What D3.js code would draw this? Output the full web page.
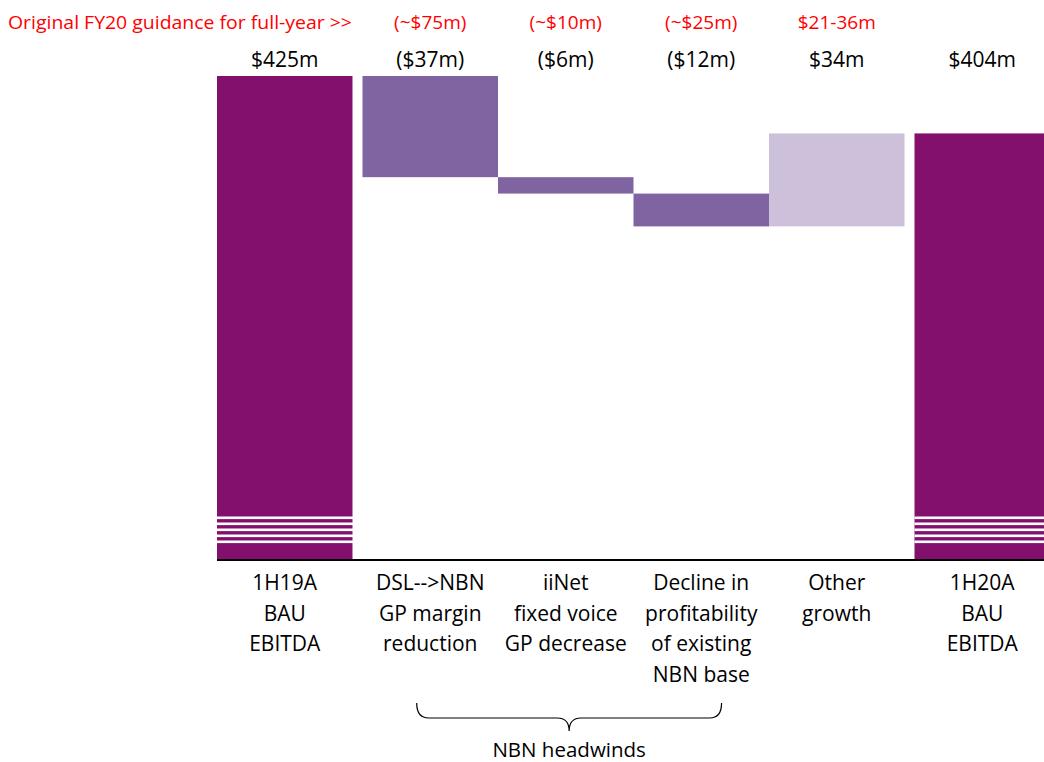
<!DOCTYPE html>
<html>
<head>
<meta charset="utf-8">
<script src="https://cdn.jsdelivr.net/npm/d3@7"></script>
<style>
  body { margin: 0; background: #fff; }
  text { font-family: "Open Sans", Lato, sans-serif; }
</style>
</head>
<body>
<div id="chart"></div>
<script>
// waterfall data
var categories = ['1H19A BAU EBITDA', 'DSL-->NBN GP margin reduction', 'iiNet fixed voice GP decrease',
                  'Decline in profitability of existing NBN base', 'Other growth', '1H20A BAU EBITDA']
var catLines = [['1H19A', 'BAU', 'EBITDA'], ['DSL-->NBN', 'GP margin', 'reduction'], ['iiNet', 'fixed voice', 'GP decrease'],
                ['Decline in', 'profitability', 'of existing', 'NBN base'], ['Other', 'growth'], ['1H20A', 'BAU', 'EBITDA']]
var kinds = ['total', 'down', 'down', 'down', 'up', 'total']
var values = [425, -37, -6, -12, 34, 404]
var valueLabels = ['$425m', '($37m)', '($6m)', '($12m)', '$34m', '$404m']
var guidance = ['', '(~$75m)', '(~$10m)', '(~$25m)', '$21-36m', '']
var guidanceTitle = 'Original FY20 guidance for full-year >>'
var braceLabel = 'NBN headwinds'
var axisBreak = 248   // value at the (broken) baseline

var W = 1044, H = 762
var svg = d3.select('#chart').append('svg').attr('width', W).attr('height', H)

var colors = {total: '#84106E', down: '#8064A2', up: '#CCC0DA'}

var x = d3.scaleBand().domain(categories).range([227, 1040]).paddingInner(0).paddingOuter(0)
var y = d3.scaleLinear().domain([axisBreak, 425]).range([560, 76])
var gap = 10

// running totals for the floating bars
var running = 0
var bars = values.map((v, i) => {
    var d = {cat: categories[i], kind: kinds[i], i: i}
    if (kinds[i] == 'total') {
        d.y0 = axisBreak; d.y1 = v; running = v
    } else {
        d.y0 = running; d.y1 = running + v; running = running + v
    }
    d.x0 = x(categories[i]) + (i == 0 ? -gap : 0) + (i == categories.length - 1 ? gap : 0)
    return d
})

var g = svg.append('g')

g.selectAll('rect.bar')
    .data(bars)
    .enter().append('rect')
    .attr('class', 'bar')
    .attr('x', d => d.x0)
    .attr('width', x.bandwidth())
    .attr('y', d => y(Math.max(d.y0, d.y1)))
    .attr('height', d => Math.abs(y(d.y0) - y(d.y1)))
    .attr('fill', d => colors[d.kind])

// axis-break stripes on the total bars
var stripes = d3.range(5)
bars.filter(d => d.kind == 'total').forEach(d => {
    g.selectAll(null)
        .data(stripes)
        .enter().append('rect')
        .attr('x', d.x0)
        .attr('width', x.bandwidth() + 2)
        .attr('y', s => 516.5 + s * 6)
        .attr('height', 2.6)
        .attr('fill', '#fff')
})

// baseline
g.append('line')
    .attr('x1', bars[0].x0).attr('x2', bars[5].x0 + x.bandwidth())
    .attr('y1', y(axisBreak)).attr('y2', y(axisBreak))
    .attr('stroke', '#000').attr('stroke-width', 2)

var cx = d => d.x0 + x.bandwidth() / 2

// value labels
g.selectAll('text.val')
    .data(bars)
    .enter().append('text')
    .attr('x', cx)
    .attr('y', 67)
    .attr('text-anchor', 'middle')
    .attr('font-size', 21)
    .attr('fill', '#000')
    .text(d => valueLabels[d.i])

// guidance row
g.selectAll('text.guid')
    .data(bars)
    .enter().append('text')
    .attr('x', cx)
    .attr('y', 29)
    .attr('text-anchor', 'middle')
    .attr('font-size', 19)
    .attr('fill', '#FF0000')
    .text(d => guidance[d.i])

g.append('text')
    .attr('x', 8)
    .attr('y', 29)
    .attr('font-size', 19)
    .attr('fill', '#FF0000')
    .attr('textLength', 344)
    .attr('lengthAdjust', 'spacingAndGlyphs')
    .text(guidanceTitle)

// category labels
bars.forEach(d => {
    var t = g.append('text')
        .attr('text-anchor', 'middle')
        .attr('font-size', 21)
        .attr('fill', '#000')
    catLines[d.i].forEach((line, k) => {
        t.append('tspan').attr('x', cx(d)).attr('y', 590 + k * 30.7).text(line)
    })
})

// brace under the NBN headwinds
var bx0 = x(categories[1]) + x.bandwidth() * 0.4
var bx1 = x(categories[3]) + x.bandwidth() * 0.65
var bm = (bx0 + bx1) / 2
var by0 = 703, by1 = 718, by2 = 731
var p = d3.path()
p.moveTo(bx0, by0)
p.quadraticCurveTo(bx0, by1, bx0 + 12, by1)
p.lineTo(bm - 12, by1)
p.quadraticCurveTo(bm, by1, bm, by2)
p.moveTo(bx1, by0)
p.quadraticCurveTo(bx1, by1, bx1 - 12, by1)
p.lineTo(bm + 12, by1)
p.quadraticCurveTo(bm, by1, bm, by2)
g.append('path')
    .attr('d', p.toString())
    .attr('fill', 'none')
    .attr('stroke', '#000')
    .attr('stroke-width', 1.2)

g.append('text')
    .attr('x', bm)
    .attr('y', 757)
    .attr('text-anchor', 'middle')
    .attr('font-size', 20.5)
    .attr('fill', '#000')
    .text(braceLabel)
</script>
</body>
</html>
